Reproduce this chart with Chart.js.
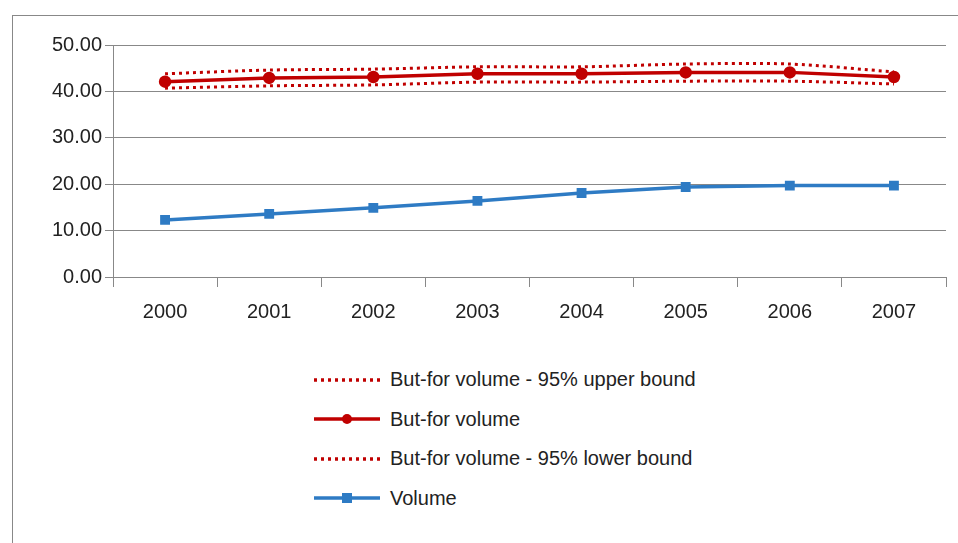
<!DOCTYPE html>
<html><head><meta charset="utf-8">
<script src="https://cdn.jsdelivr.net/npm/chart.js@4"></script>
<style>
body{margin:0;background:#fff;font-family:"Liberation Sans",Arial,sans-serif;}
#frame{position:absolute;left:12px;top:15px;width:960px;height:540px;border:1px solid #888;box-sizing:border-box;}
#wrap{position:absolute;left:12px;top:22px;width:946px;height:315px;}
#legend{position:absolute;left:312px;top:360px;margin:0;padding:0;list-style:none;}
#legend li{display:flex;align-items:center;height:39.5px;font-size:20px;color:#222;}
#legend svg{margin-right:8px;}
</style></head><body>
<div id="frame"></div>
<div id="wrap"><canvas id="c"></canvas></div>
<ul id="legend"></ul>
<script>
const years = ['2000','2001','2002','2003','2004','2005','2006','2007'];
const upperBound = [43.8, 44.6, 44.8, 45.3, 45.3, 45.9, 45.9, 44.2];
const butFor = [42.1, 42.9, 43.1, 43.8, 43.8, 44.1, 44.1, 43.1];
const lowerBound = [40.7, 41.2, 41.4, 42.0, 42.0, 42.2, 42.2, 41.6];
const volume = [12.3, 13.6, 14.9, 16.4, 18.1, 19.4, 19.7, 19.7];

const red = '#C00000', blue = '#2E7BC4';

new Chart(document.getElementById('c'), {
    type: 'line',
    data: {
        labels: years,
        datasets: [
            { label: 'But-for volume - 95% upper bound', data: upperBound, borderColor: red, borderWidth: 3, borderDash: [3, 4], pointRadius: 0, tension: 0.3 },
            { label: 'But-for volume', data: butFor, borderColor: red, backgroundColor: red, borderWidth: 3.5, pointRadius: 4.5, pointStyle: 'circle' },
            { label: 'But-for volume - 95% lower bound', data: lowerBound, borderColor: red, borderWidth: 3, borderDash: [3, 4], pointRadius: 0, tension: 0.3 },
            { label: 'Volume', data: volume, borderColor: blue, backgroundColor: blue, borderWidth: 3.5, pointRadius: 4.5, pointStyle: 'rect' }
        ]
    },
    options: {
        responsive: true, maintainAspectRatio: false, animation: false,
        layout: { padding: { top: 23, right: 12, left: 0 } },
        plugins: { legend: { display: false }, tooltip: { enabled: false } },
        scales: {
            x: {
                offset: true,
                grid: { offset: true, drawOnChartArea: false, color: '#888', tickLength: 10 },
                border: { color: '#888' },
                ticks: { color: '#222', font: { family: 'Liberation Sans', size: 20 }, padding: 13 }
            },
            y: {
                min: 0, max: 50,
                afterFit: s => { s.width = 101; },
                grid: { color: '#888', tickLength: 8 },
                border: { color: '#888' },
                ticks: { stepSize: 10, color: '#222', font: { family: 'Liberation Sans', size: 20 }, callback: v => v.toFixed(2) }
            }
        }
    }
});

const legendItems = [
    { text: 'But-for volume - 95% upper bound', dash: true, color: red },
    { text: 'But-for volume', marker: 'circle', color: red },
    { text: 'But-for volume - 95% lower bound', dash: true, color: red },
    { text: 'Volume', marker: 'rect', color: blue }
];
const ul = document.getElementById('legend');
legendItems.forEach(item => {
    const li = document.createElement('li');
    let m = '';
    if (item.marker === 'circle') m = `<circle cx="35" cy="10" r="5" fill="${item.color}"/>`;
    if (item.marker === 'rect') m = `<rect x="30" y="5" width="10" height="10" fill="${item.color}"/>`;
    li.innerHTML = `<svg width="70" height="20"><line x1="2" y1="10" x2="68" y2="10" stroke="${item.color}" stroke-width="3.5" ${item.dash ? 'stroke-dasharray="3 4"' : ''}/>${m}</svg><span>${item.text}</span>`;
    ul.appendChild(li);
});
</script>
</body></html>
